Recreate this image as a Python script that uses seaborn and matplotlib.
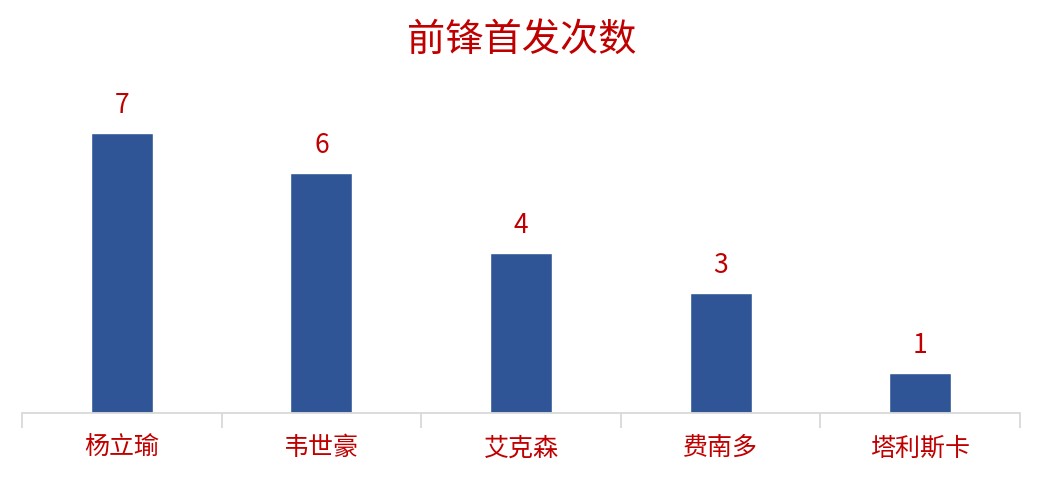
import seaborn as sns
import matplotlib.pyplot as plt
import numpy as np
import pandas as pd

players = ['杨立瑜', '韦世豪', '艾克森', '费南多', '塔利斯卡']
starts = [7, 6, 4, 3, 1]

df = pd.DataFrame({'player': players, 'starts': starts})

sns.set_style('white')
plt.rcParams['font.family'] = ['Noto Sans CJK SC', 'DejaVu Sans']

red = '#C00000'
fig = plt.figure(figsize=(10.43, 4.79), dpi=100)
ax = fig.add_axes([22 / 1043, 66 / 479, 998 / 1043, 333 / 479])

sns.barplot(data=df, x='player', y='starts', color='#2F5597', width=0.31,
            saturation=1, ax=ax)

for i, v in enumerate(starts):
    ax.text(i, v + 0.36, str(v), ha='center', va='bottom', color=red, fontsize=19)

ax.set_xlim(-0.5, len(players) - 0.5)
ax.set_ylim(0, 8.325)
ax.set_yticks([])
ax.set_xlabel('')
ax.set_ylabel('')
ax.tick_params(axis='x', which='major', bottom=True, length=0, pad=16,
               labelsize=18, labelcolor=red)
ax.set_xticks(np.arange(-0.5, len(players)), minor=True)
ax.tick_params(axis='x', which='minor', bottom=True, length=11, width=1.3,
               color='#D9D9D9')
for s in ['top', 'right', 'left']:
    ax.spines[s].set_visible(False)
ax.spines['bottom'].set_color('#D9D9D9')
ax.spines['bottom'].set_linewidth(1.3)

fig.text(0.5, 1 - 40 / 479, '前锋首发次数', ha='center', va='center', color=red, fontsize=27.5)

fig.savefig('out.png', dpi=100)
